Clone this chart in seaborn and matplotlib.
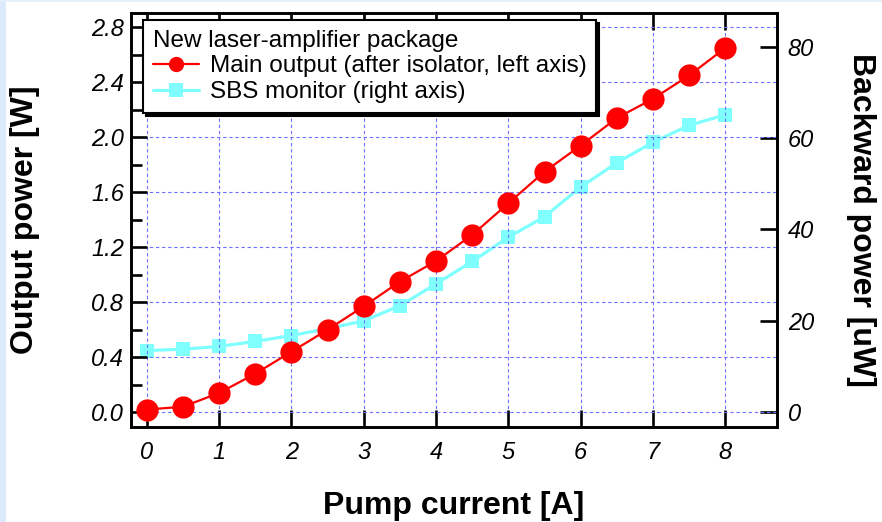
import matplotlib
matplotlib.use("Agg")
import matplotlib.pyplot as plt
from matplotlib.lines import Line2D
from matplotlib.patches import Rectangle
from matplotlib.ticker import MultipleLocator, NullLocator
import seaborn as sns
import pandas as pd

# Measured amplifier characteristics
pump_current = [0.0, 0.5, 1.0, 1.5, 2.0, 2.5, 3.0, 3.5, 4.0,
                4.5, 5.0, 5.5, 6.0, 6.5, 7.0, 7.5, 8.0]
main_output_w = [0.02, 0.04, 0.14, 0.28, 0.44, 0.60, 0.77, 0.95, 1.10,
                 1.29, 1.52, 1.75, 1.94, 2.14, 2.28, 2.45, 2.65]
sbs_monitor_uw = [13.5, 13.8, 14.4, 15.5, 16.8, 18.3, 20.0, 23.3, 28.1,
                  33.0, 38.3, 42.8, 49.3, 54.6, 59.1, 62.8, 65.1]

x_ticks = [0, 1, 2, 3, 4, 5, 6, 7, 8]
left_ticks = [0.0, 0.4, 0.8, 1.2, 1.6, 2.0, 2.4, 2.8]
right_ticks = [0, 20, 40, 60, 80]

main_label = "Main output (after isolator, left axis)"
sbs_label = "SBS monitor (right axis)"
legend_title = "New laser-amplifier package"

RED = "#ff0000"
CYAN = "#80ffff"
GRID = "#6e6eff"

sns.set_style("ticks")
plt.rcParams["font.family"] = ["Liberation Sans", "DejaVu Sans"]
plt.rcParams.update({"text.color": "black", "axes.labelcolor": "black",
                     "xtick.color": "black", "ytick.color": "black",
                     "axes.edgecolor": "black"})

df = pd.DataFrame({"current": pump_current,
                   "main": main_output_w,
                   "sbs": sbs_monitor_uw})

fig = plt.figure(figsize=(8.82, 5.22), dpi=100)
fig.patch.set_facecolor("white")
# thin pale-blue frame strip on the left and top edges
fig.patches.append(Rectangle((0, 0), 6 / 882, 1, transform=fig.transFigure,
                             facecolor="#dcebfc", edgecolor="none", zorder=0))
fig.patches.append(Rectangle((0, 1 - 1.5 / 522), 1, 1.5 / 522, transform=fig.transFigure,
                             facecolor="#e6f0fb", edgecolor="none", zorder=0))

ax = fig.add_axes([131 / 882, 1 - 426.7 / 522, 645.7 / 882, 413.7 / 522])
ax2 = ax.twinx()

# SBS monitor on the right axis
sns.lineplot(data=df, x="current", y="sbs", ax=ax2, color=CYAN, linewidth=2.3,
             marker="s", markersize=9.5, markeredgewidth=0,
             markeredgecolor=CYAN, legend=False)
# Main output on the left axis
sns.lineplot(data=df, x="current", y="main", ax=ax, color=RED, linewidth=1.6,
             marker="o", markersize=16, markeredgewidth=0,
             markeredgecolor=RED, legend=False)

# left axis drawn above the twin so the red series sits on top
ax.set_zorder(ax2.get_zorder() + 1)
ax.patch.set_visible(False)
ax2.patch.set_facecolor("white")

lo, hi = -0.105, 2.904
scale = 30.09
ax.set_xlim(-0.217, 8.71)
ax.set_ylim(lo, hi)
ax2.set_ylim(lo * scale, hi * scale)

tick_fs = 17
ax.set_xticks(x_ticks, labels=[str(v) for v in x_ticks],
              fontstyle="italic", fontsize=tick_fs)
ax.set_yticks(left_ticks, labels=[f"{v:.1f}" for v in left_ticks],
              fontstyle="italic", fontsize=tick_fs)
ax.yaxis.set_minor_locator(MultipleLocator(0.2))
ax.xaxis.set_minor_locator(NullLocator())
ax2.set_yticks(right_ticks, labels=[str(v) for v in right_ticks],
               fontstyle="italic", fontsize=tick_fs)
ax2.yaxis.set_minor_locator(NullLocator())

ax.tick_params(axis="x", which="major", direction="in", length=12, width=1.9,
               top=True, bottom=True, pad=10, colors="black")
ax.tick_params(axis="y", which="major", direction="in", length=11.5, width=1.9,
               left=True, right=False, pad=5, colors="black")
ax.tick_params(axis="y", which="minor", direction="in", length=7.7, width=1.9,
               left=True, right=False, colors="black")
ax2.tick_params(axis="y", which="major", direction="in", length=12.5, width=1.9,
                left=False, right=True, pad=8, colors="black")

for a in (ax, ax2):
    for s in a.spines.values():
        s.set_visible(True)
        s.set_linewidth(1.9)
        s.set_color("black")

ax.grid(True, which="major", color=GRID, linestyle=(0, (3, 2.5)), linewidth=0.8)
ax2.grid(False)

label_fs = 23
ax.set_xlabel("Pump current [A]", fontsize=label_fs, fontweight="bold")
ax.xaxis.set_label_coords(0.5, -0.155)
ax.set_ylabel("Output power [W]", fontsize=label_fs, fontweight="bold")
ax.yaxis.set_label_coords(-0.141, 0.5)
ax2.set_ylabel("Backward power [uW]", fontsize=label_fs, fontweight="bold",
               rotation=-90, va="bottom")
ax2.yaxis.set_label_coords(1.107, 0.5)

handles = [
    Line2D([], [], color=RED, linewidth=1.6, marker="o", markersize=11,
           markeredgewidth=0),
    Line2D([], [], color=CYAN, linewidth=2.3, marker="s", markersize=10.5,
           markeredgewidth=0),
]
leg = ax.legend(handles, [main_label, sbs_label], title=legend_title,
                loc="upper left", bbox_to_anchor=(0.0186, 0.983),
                borderaxespad=0, fontsize=17.5, title_fontsize=17.5,
                alignment="left", frameon=True, fancybox=False,
                shadow={"facecolor": "black", "edgecolor": "black", "alpha": 1},
                handlelength=1.9, handletextpad=0.45, labelspacing=0.15,
                borderpad=0.4, framealpha=1)
leg.get_frame().set_edgecolor("black")
leg.get_frame().set_linewidth(1.5)
leg.set_zorder(10)

fig.savefig("out.png", dpi=100)
